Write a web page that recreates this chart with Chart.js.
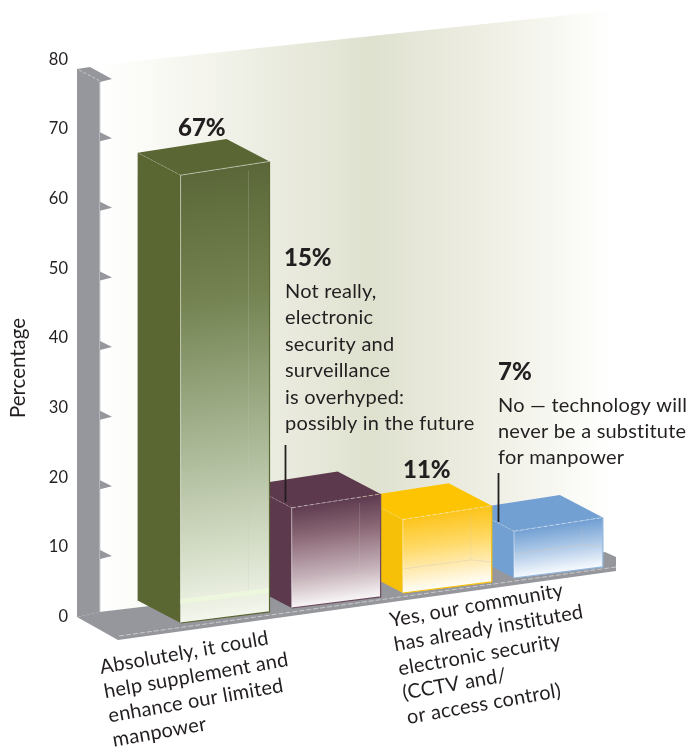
<!DOCTYPE html>
<html><head><meta charset="utf-8">
<style>html,body{margin:0;padding:0;background:#fff}#w{width:698px;height:751px;position:relative}#c{display:block}</style>
<script src="https://cdn.jsdelivr.net/npm/chart.js@4"></script>
</head><body><div id="w"><canvas id="c"></canvas></div>
<script>
const categories = ["Absolutely", "Not really", "Yes", "No"];
const percentages = [67, 15, 11, 7];
const yMin = 0, yMax = 80, yStep = 10;
const axisTitle = "Percentage";
const valueLabels = ["67%", "15%", "11%", "7%"];
const labelAbsolutely = ["Absolutely, it could", "help supplement and", "enhance our limited", "manpower"];
const labelYes = ["Yes, our community", "has already instituted", "electronic security", "(CCTV and/", "or access control)"];
const labelNotReally = ["Not really,", "electronic", "security and", "surveillance", "is overhyped:", "possibly in the future"];
const labelNo = ["No \u2014 technology will", "never be a substitute", "for manpower"];

const sideColors = ["#5b6733", "#5c394d", "#f6c009", "#73a0d2"];
const topColors = ["#5a6634", "#5c394d", "#fcc403", "#73a0d2"];
const frontStops = [
  [[0,"#5b6738"],[.28,"#738250"],[.61,"#a9b795"],[.84,"#d3dcc5"],[1,"#f3f6ec"]],
  [[0,"#5f3c50"],[.3,"#8b6875"],[.7,"#c4b0b8"],[1,"#f8f5f6"]],
  [[0,"#fcc41c"],[.4,"#ffd965"],[.75,"#ffedba"],[1,"#fffdf6"]],
  [[0,"#73a0d3"],[.45,"#a9c6e6"],[1,"#f6f9fe"]]
];
const edgeColors = ["#5b6733", "#6b4a5d", "#f6c009", "#8fb5de"];
const FONT = "Lato, 'Open Sans', sans-serif";
const INK = "#231f20", GREY = "#96979c";
const DX = -43, DY = -22.5, BOTTOM_SLOPE = .125, TOP_SLOPE = .155, RUN_SLOPE = .135, HEIGHT_K = .96;

function poly(ctx, pts, fill, stroke, lw, dash) {
  ctx.beginPath();
  pts.forEach((p, i) => i ? ctx.lineTo(p[0], p[1]) : ctx.moveTo(p[0], p[1]));
  if (fill) { ctx.closePath(); ctx.fillStyle = fill; ctx.fill(); }
  if (stroke) { ctx.strokeStyle = stroke; ctx.lineWidth = lw || 1; ctx.setLineDash(dash || []); ctx.stroke(); ctx.setLineDash([]); }
}
function textBlock(ctx, lines, x, y, lh, font) {
  ctx.font = font; ctx.fillStyle = INK; ctx.textAlign = "left"; ctx.textBaseline = "alphabetic";
  ctx.letterSpacing = "0.2px";
  lines.forEach((t, i) => ctx.fillText(t, x, y + i * lh));
  ctx.letterSpacing = "0px";
}

const scene = {
  id: "scene",
  beforeDatasetsDraw(chart) {
    const ctx = chart.ctx, ys = chart.scales.y;
    ctx.save();
    // back wall
    const g = ctx.createLinearGradient(100, 0, 612, 0);
    g.addColorStop(0, "#ffffff"); g.addColorStop(.12, "#f9f9f4"); g.addColorStop(.53, "#dfe1cf");
    g.addColorStop(.75, "#eeeee3"); g.addColorStop(.97, "#fdfdfb"); g.addColorStop(1, "#ffffff");
    poly(ctx, [[100,65],[620,9.5],[620,552],[100,612]], g);
    // floor
    poly(ctx, [[99,612],[605,552],[616,557],[616,571],[118,640],[77,617]], GREY);
    poly(ctx, [[119,636],[616,567]], null, "#c9cacd", 1, [5,2]);
    // side wall
    poly(ctx, [[77,69],[90,67],[112,79],[100,82],[100,612],[77,617]], GREY);
    poly(ctx, [[100,82],[100,612]], null, "#d4d4d8", 1);
    poly(ctx, [[79,70],[100,81]], null, "#c9cacd", 1, [3,2]);
    // axis tick teeth, placed from the y scale
    ys.ticks.forEach(t => {
      if (t.value === yMin || t.value === yMax) return;
      const y = ys.getPixelForValue(t.value) + 9;
      poly(ctx, [[100,y-6],[112,y],[100,y+3]], GREY);
    });
    ctx.restore();
  },
  beforeDatasetDraw(chart, args) {
    const ctx = chart.ctx, bars = args.meta.data;
    const x0 = bars[0].x - bars[0].width / 2;
    ctx.save();
    for (let i = bars.length - 1; i >= 0; i--) {
      const b = bars[i], w = b.width, xl = b.x - w / 2, xr = xl + w;
      const h = (b.base - b.y) * HEIGHT_K;
      const ylb = b.base + 6.5 - RUN_SLOPE * (xl - x0);
      const yrb = ylb - BOTTOM_SLOPE * w;
      const ylt = ylb - h, yrt = ylt - TOP_SLOPE * w;
      poly(ctx, [[xl,ylt],[xl+DX,ylt+DY],[xl+DX,ylb+DY],[xl,ylb]], sideColors[i]);
      poly(ctx, [[xl,ylt],[xr,yrt],[xr+DX,yrt+DY],[xl+DX,ylt+DY]], topColors[i]);
      const t = (ylb - ylt) / (1 + .14 * .14);
      const gr = ctx.createLinearGradient(xl, ylt, xl + .14 * t, ylt + t);
      frontStops[i].forEach(s => gr.addColorStop(s[0], s[1]));
      poly(ctx, [[xl,ylt],[xr,yrt],[xr,yrb],[xl,ylb]], gr);
      // glassy inner edges of the box
      const ix = xr - 21, iyb = yrb - 24, ifl = ylb - 24;
      poly(ctx, [[ix, yrt + 9],[ix, iyb + 2]], null, "rgba(200,200,190,.22)", 1);
      if (i === 0) {
        poly(ctx, [[xl, ifl],[xr, iyb],[xr, iyb + 5],[xl, ifl + 5]], "#edf7dd");
      } else {
        poly(ctx, [[xl, ifl],[xr - 21, iyb + 2],[xr, iyb + 4]], null, "rgba(210,200,190,.45)", 1);
      }
      poly(ctx, [[xl,ylt],[xl,ylb]], null, "rgba(255,255,255,.45)", 1);
      poly(ctx, [[xr,yrt],[xr,yrb],[xl,ylb]], null, edgeColors[i], 1.2);
      poly(ctx, [[xl,ylt],[xr,yrt]], null, "rgba(255,255,255,.45)", 1, i ? [4,2] : []);
      poly(ctx, [[xl,ylt],[xl+DX,ylt+DY]], null, "rgba(255,255,255,.25)", 1, [2,2]);
    }
    ctx.restore();
    return false;
  },
  afterDatasetsDraw(chart) {
    const ctx = chart.ctx;
    const body = "20px " + FONT, bold = "900 24px " + FONT;
    ctx.save();
    // y axis title
    ctx.save();
    ctx.translate(25, 368); ctx.rotate(-Math.PI / 2);
    ctx.font = "20.5px " + FONT; ctx.fillStyle = INK; ctx.textAlign = "center"; ctx.textBaseline = "alphabetic";
    ctx.fillText(axisTitle, 0, 0);
    ctx.restore();
    // value labels
    ctx.font = bold; ctx.fillStyle = INK; ctx.textAlign = "left";
    ctx.fillText(valueLabels[0], 178, 136);
    ctx.fillText(valueLabels[1], 284, 266);
    ctx.fillText(valueLabels[2], 403, 478);
    ctx.fillText(valueLabels[3], 498, 380);
    // annotations and their leaders
    textBlock(ctx, labelNotReally, 285, 298, 26.4, body);
    textBlock(ctx, labelNo, 498, 412, 25.8, body);
    poly(ctx, [[285.5,445],[285.5,502]], null, INK, 1.8);
    poly(ctx, [[498.5,473],[498.5,522]], null, INK, 1.8);
    // rotated category labels
    [[labelAbsolutely, 101, 674], [labelYes, 391, 627]].forEach(([lines, x, y]) => {
      ctx.save();
      ctx.translate(x, y); ctx.rotate(-10 * Math.PI / 180);
      textBlock(ctx, lines, 0, 0, 24.6, body);
      ctx.restore();
    });
    ctx.restore();
  }
};

new Chart(document.getElementById("c"), {
  type: "bar",
  data: { labels: categories, datasets: [{ data: percentages, backgroundColor: sideColors, categoryPercentage: .8, barPercentage: 1 }] },
  options: {
    responsive: true, maintainAspectRatio: false, animation: false,
    layout: { padding: { top: 59.5, bottom: 134.5, right: 84, left: 0 } },
    plugins: { legend: { display: false }, tooltip: { enabled: false }, title: { display: false } },
    scales: {
      x: { display: false },
      y: {
        min: yMin, max: yMax,
        afterFit(s) { s.width = 169.5; s.paddingTop = 0; s.paddingBottom = 0; },
        grid: { display: false, drawTicks: false }, border: { display: false },
        ticks: { stepSize: yStep, padding: 101.5, color: INK, font: { family: FONT, size: 16.5 } }
      }
    }
  },
  plugins: [scene]
});
</script>
</body></html>
